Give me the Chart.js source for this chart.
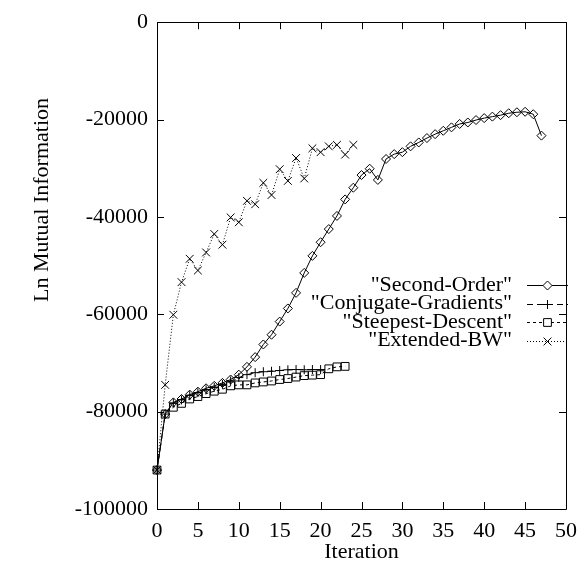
<!DOCTYPE html>
<html><head><meta charset="utf-8">
<script src="https://cdn.jsdelivr.net/npm/chart.js@4/dist/chart.umd.min.js"></script>
<style>html,body{margin:0;padding:0;background:#fff}#wrap{width:586px;height:565px;position:relative}</style>
</head><body><div id="wrap"><canvas id="c" width="586" height="565"></canvas></div>
<script>
// ---- data ----
const iterSecondOrder = [0,1,2,3,4,5,6,7,8,9,10,11,12,13,14,15,16,17,18,19,20,21,22,23,24,25,26,27,28,29,30,31,32,33,34,35,36,37,38,39,40,41,42,43,44,45,46,47];
const secondOrder = [-92000,-80500,-78100,-77400,-76500,-75900,-75200,-74700,-74100,-73400,-72400,-70800,-68800,-66200,-64200,-61500,-58800,-55600,-51500,-48000,-45200,-42500,-39800,-36400,-34000,-31400,-30100,-32400,-28100,-27100,-26700,-25500,-24700,-23800,-23000,-22300,-21600,-20900,-20600,-20100,-19700,-19400,-19100,-18700,-18500,-18400,-18900,-23300];
const iterConjugate = [0,1,2,3,4,5,6,7,8,9,10,11,12,13,14,15,16,17,18,19,20];
const conjugate = [-92000,-80500,-78200,-77600,-76700,-76100,-75500,-75000,-74400,-73700,-73000,-72400,-72000,-71800,-71700,-71550,-71400,-71350,-71400,-71350,-71350];
const iterSteepest = [0,1,2,3,4,5,6,7,8,9,10,11,12,13,14,15,16,17,18,19,20,21,22,23];
const steepest = [-92000,-80500,-79100,-78300,-77400,-76900,-76300,-75800,-75400,-74700,-74500,-74500,-74100,-73900,-73700,-73400,-73200,-72900,-72600,-72500,-72400,-71200,-70800,-70700];
const iterExtendedBW = [0,1,2,3,4,5,6,7,8,9,10,11,12,13,14,15,16,17,18,19,20,21,22,23,24];
const extendedBW = [-92000,-74500,-60100,-53400,-48600,-51000,-47300,-43500,-45700,-40100,-41100,-36700,-37400,-33000,-35500,-30200,-32600,-27900,-32100,-25900,-26700,-25500,-25200,-27200,-25200];
const seriesNames = ['"Second-Order"','"Conjugate-Gradients"','"Steepest-Descent"','"Extended-BW"'];
const xTickValues = [0,5,10,15,20,25,30,35,40,45,50];
const yTickValues = [0,-20000,-40000,-60000,-80000,-100000];
const xTitle = 'Iteration';
const yTitle = 'Ln Mutual Information';

const FONT = 'Liberation Serif, Times New Roman, serif';
const FS = 22;
const pts = (xs, ys) => xs.map((x, i) => ({x, y: ys[i]}));

const styles = [
  {pointStyle:'rectRot', radius:4.5, dash:[]},
  {pointStyle:'cross', radius:4.5, dash:[6,4]},
  {pointStyle:'rect', radius:5.5, dash:[3,3]},
  {pointStyle:'crossRot', radius:5.5, dash:[1,2]}
];
const allData = [pts(iterSecondOrder, secondOrder), pts(iterConjugate, conjugate), pts(iterSteepest, steepest), pts(iterExtendedBW, extendedBW)];

const datasets = allData.map((d, i) => ({
  label: seriesNames[i],
  data: d,
  borderColor: '#000',
  backgroundColor: 'rgba(0,0,0,0)',
  borderWidth: 1,
  borderDash: styles[i].dash,
  pointStyle: styles[i].pointStyle,
  pointRadius: styles[i].radius,
  pointBorderWidth: 1,
  pointBorderColor: '#000',
  pointBackgroundColor: 'rgba(0,0,0,0)',
  tension: 0,
  clip: false
}));

const TICK = 7;
const framePlugin = {
  id: 'frame',
  afterDraw(chart) {
    const {ctx, chartArea: a, scales} = chart;
    ctx.save();
    ctx.strokeStyle = '#000';
    ctx.lineWidth = 1;
    ctx.setLineDash([]);
    ctx.beginPath();
    ctx.rect(Math.round(a.left) + 0.5, Math.round(a.top) + 0.5, Math.round(a.right - a.left), Math.round(a.bottom - a.top));
    xTickValues.forEach(v => {
      const px = Math.round(scales.x.getPixelForValue(v)) + 0.5;
      ctx.moveTo(px, a.bottom); ctx.lineTo(px, a.bottom - TICK);
      ctx.moveTo(px, a.top); ctx.lineTo(px, a.top + TICK);
    });
    yTickValues.forEach(v => {
      const py = Math.round(scales.y.getPixelForValue(v)) + 0.5;
      ctx.moveTo(a.left, py); ctx.lineTo(a.left + TICK, py);
      ctx.moveTo(a.right, py); ctx.lineTo(a.right - TICK, py);
    });
    ctx.stroke();
    // y title
    ctx.fillStyle = '#000';
    ctx.font = FS + 'px ' + FONT;
    ctx.textAlign = 'center';
    ctx.textBaseline = 'middle';
    ctx.translate(42, 200);
    ctx.rotate(-Math.PI / 2);
    ctx.fillText(yTitle, 0, 0);
    ctx.restore();

    // legend
    ctx.save();
    ctx.font = FS + 'px ' + FONT;
    ctx.fillStyle = '#000';
    ctx.strokeStyle = '#000';
    ctx.textAlign = 'right';
    ctx.textBaseline = 'middle';
    const lx0 = 527, lx1 = 568, tx = 512, y0 = 285, dy = 18.5;
    seriesNames.forEach((name, i) => {
      const y = y0 + i * dy;
      ctx.fillStyle = '#000';
      ctx.fillText(name, tx, y);
      ctx.setLineDash(styles[i].dash);
      ctx.lineWidth = 1;
      ctx.beginPath();
      ctx.moveTo(lx0, Math.round(y) + 0.5);
      ctx.lineTo(lx1, Math.round(y) + 0.5);
      ctx.stroke();
      ctx.setLineDash([]);
      ctx.fillStyle = '#fff';
      Chart.helpers.drawPoint(ctx, {pointStyle: styles[i].pointStyle, radius: styles[i].radius, borderWidth: 1}, (lx0 + lx1) / 2, Math.round(y) + 0.5);
    });
    ctx.restore();
  }
};

new Chart(document.getElementById('c'), {
  type: 'line',
  data: {datasets},
  options: {
    responsive: false,
    animation: false,
    layout: {padding: {top: 18, right: 13, left: 0, bottom: 0}},
    plugins: {legend: {display: false}, tooltip: {enabled: false}},
    scales: {
      x: {
        type: 'linear', min: 0, max: 50,
        afterBuildTicks: s => { s.ticks = xTickValues.map(v => ({value: v})); },
        afterFit: s => { s.height = 56; },
        grid: {display: false, drawTicks: false},
        border: {display: false},
        ticks: {color: '#000', font: {family: FONT, size: FS}, padding: 9, maxRotation: 0, autoSkip: false, callback: v => String(v)},
        title: {display: true, text: xTitle, color: '#000', font: {family: FONT, size: FS}, padding: {top: 0, bottom: 0}}
      },
      y: {
        type: 'linear', min: -100000, max: 0,
        afterBuildTicks: s => { s.ticks = yTickValues.map(v => ({value: v})); },
        afterFit: s => { s.width = 157; },
        grid: {display: false, drawTicks: false},
        border: {display: false},
        ticks: {color: '#000', font: {family: FONT, size: FS}, padding: 9, autoSkip: false, callback: v => String(v)}
      }
    }
  },
  plugins: [framePlugin]
});
</script></body></html>
